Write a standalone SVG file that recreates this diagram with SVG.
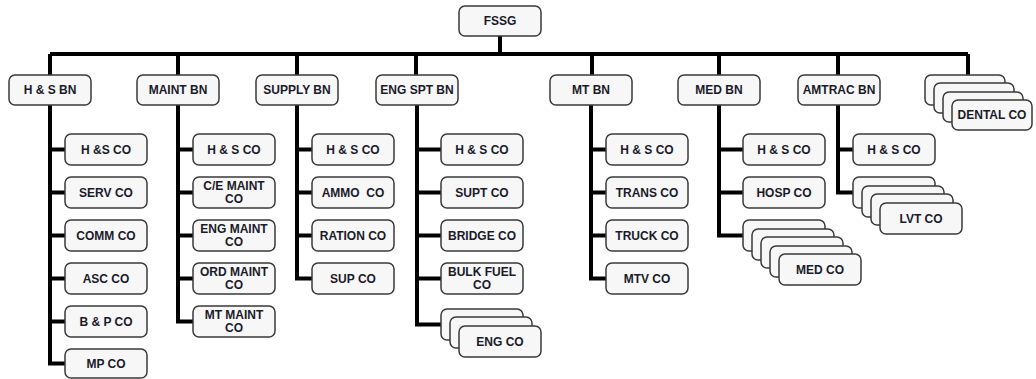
<svg xmlns="http://www.w3.org/2000/svg" width="1036" height="379" viewBox="0 0 1036 379">
<style>
.b{fill:#f7f7f7;stroke:#3a3a3a;stroke-width:1.5}
.t{font-family:"Liberation Sans",Arial,sans-serif;font-weight:bold;font-size:12px;fill:#1a1a2a;text-anchor:middle}
.c{fill:none;stroke:#000;stroke-width:4;stroke-linejoin:miter}
</style>
<rect width="1036" height="379" fill="#fff"/>
<g id="connectors">
<path class="c" d="M500,36V54M50,54H968M50,54V75M178,54V75M297,54V75M416,54V75M592,54V75M719,54V75M838,54V75M968,54V75"/>
<path class="c" d="M50,105V363.5H65M50,149.5H65M50,192.5H65M50,235.5H65M50,278.5H65M50,321.5H65"/>
<path class="c" d="M178,105V321.5H193M178,149.5H193M178,192.5H193M178,235.5H193M178,278.5H193"/>
<path class="c" d="M297,105V278.5H312M297,149.5H312M297,192.5H312M297,235.5H312"/>
<path class="c" d="M417,105V324.5H441M417,149.5H441M417,192.5H441M417,235.5H441M417,278.5H441"/>
<path class="c" d="M591,105V278.5H606M591,149.5H606M591,192.5H606M591,235.5H606"/>
<path class="c" d="M719,105V235.5H743M719,149.5H743M719,192.5H743"/>
<path class="c" d="M838,105V192.5H853M838,149.5H853"/>
</g>
<g id="fssg"><rect class="b" x="459" y="6" width="82" height="30" rx="6"/><text class="t" x="500" y="25">FSSG</text></g>
<g id="hs-bn"><rect class="b" x="9" y="75" width="82" height="30" rx="6"/><text class="t" x="50" y="94">H &amp; S BN</text></g>
<g id="maint-bn"><rect class="b" x="137" y="75" width="82" height="30" rx="6"/><text class="t" x="178" y="94">MAINT BN</text></g>
<g id="supply-bn"><rect class="b" x="256" y="75" width="82" height="30" rx="6"/><text class="t" x="297" y="94">SUPPLY BN</text></g>
<g id="engspt-bn"><rect class="b" x="376" y="75" width="82" height="30" rx="6"/><text class="t" x="417" y="94">ENG SPT BN</text></g>
<g id="mt-bn"><rect class="b" x="550" y="75" width="82" height="30" rx="6"/><text class="t" x="591" y="94">MT BN</text></g>
<g id="med-bn"><rect class="b" x="678" y="75" width="82" height="30" rx="6"/><text class="t" x="719" y="94">MED BN</text></g>
<g id="amtrac-bn"><rect class="b" x="798" y="75" width="82" height="30" rx="6"/><text class="t" x="839" y="94">AMTRAC BN</text></g>
<g id="dental-co">
<rect class="b" x="925" y="75" width="80" height="30" rx="6"/>
<rect class="b" x="934" y="83" width="80" height="30" rx="6"/>
<rect class="b" x="943" y="92" width="80" height="30" rx="6"/>
<rect class="b" x="952" y="100" width="80" height="30" rx="6"/>
<text class="t" x="992" y="119">DENTAL CO</text></g>
<g id="hsbn-hsco"><rect class="b" x="65" y="134" width="82" height="31" rx="6"/><text class="t" x="106" y="154">H &amp;S CO</text></g>
<g id="hsbn-serv"><rect class="b" x="65" y="177" width="82" height="31" rx="6"/><text class="t" x="106" y="197">SERV CO</text></g>
<g id="hsbn-comm"><rect class="b" x="65" y="220" width="82" height="31" rx="6"/><text class="t" x="106" y="240">COMM CO</text></g>
<g id="hsbn-asc"><rect class="b" x="65" y="263" width="82" height="31" rx="6"/><text class="t" x="106" y="283">ASC CO</text></g>
<g id="hsbn-bp"><rect class="b" x="65" y="306" width="82" height="31" rx="6"/><text class="t" x="106" y="326">B &amp; P CO</text></g>
<g id="hsbn-mp"><rect class="b" x="65" y="349" width="82" height="29" rx="6"/><text class="t" x="106" y="368">MP CO</text></g>
<g id="maint-hsco"><rect class="b" x="193" y="134" width="82" height="31" rx="6"/><text class="t" x="234" y="154">H &amp; S CO</text></g>
<g id="maint-ce"><rect class="b" x="193" y="177" width="82" height="31" rx="6"/><text class="t" x="234" y="190">C/E MAINT</text><text class="t" x="234" y="203">CO</text></g>
<g id="maint-eng"><rect class="b" x="193" y="220" width="82" height="31" rx="6"/><text class="t" x="234" y="233">ENG MAINT</text><text class="t" x="234" y="246">CO</text></g>
<g id="maint-ord"><rect class="b" x="193" y="263" width="82" height="31" rx="6"/><text class="t" x="234" y="276">ORD MAINT</text><text class="t" x="234" y="289">CO</text></g>
<g id="maint-mt"><rect class="b" x="193" y="306" width="82" height="31" rx="6"/><text class="t" x="234" y="319">MT MAINT</text><text class="t" x="234" y="332">CO</text></g>
<g id="sup-hsco"><rect class="b" x="312" y="134" width="82" height="31" rx="6"/><text class="t" x="353" y="154">H &amp; S CO</text></g>
<g id="sup-ammo"><rect class="b" x="312" y="177" width="82" height="31" rx="6"/><text class="t" x="353" y="197" xml:space="preserve">AMMO  CO</text></g>
<g id="sup-ration"><rect class="b" x="312" y="220" width="82" height="31" rx="6"/><text class="t" x="353" y="240">RATION CO</text></g>
<g id="sup-sup"><rect class="b" x="312" y="263" width="82" height="31" rx="6"/><text class="t" x="353" y="283">SUP CO</text></g>
<g id="eng-hsco"><rect class="b" x="441" y="134" width="82" height="31" rx="6"/><text class="t" x="482" y="154">H &amp; S CO</text></g>
<g id="eng-supt"><rect class="b" x="441" y="177" width="82" height="31" rx="6"/><text class="t" x="482" y="197">SUPT CO</text></g>
<g id="eng-bridge"><rect class="b" x="441" y="220" width="82" height="31" rx="6"/><text class="t" x="482" y="240">BRIDGE CO</text></g>
<g id="eng-bulk"><rect class="b" x="441" y="263" width="82" height="31" rx="6"/><text class="t" x="482" y="276">BULK FUEL</text><text class="t" x="482" y="289">CO</text></g>
<g id="eng-engco">
<rect class="b" x="441" y="309" width="82" height="31" rx="6"/>
<rect class="b" x="450" y="317" width="82" height="31" rx="6"/>
<rect class="b" x="459" y="326" width="82" height="31" rx="6"/>
<text class="t" x="500" y="346">ENG CO</text></g>
<g id="mt-hsco"><rect class="b" x="606" y="134" width="82" height="31" rx="6"/><text class="t" x="647" y="154">H &amp; S CO</text></g>
<g id="mt-trans"><rect class="b" x="606" y="177" width="82" height="31" rx="6"/><text class="t" x="647" y="197">TRANS CO</text></g>
<g id="mt-truck"><rect class="b" x="606" y="220" width="82" height="31" rx="6"/><text class="t" x="647" y="240">TRUCK CO</text></g>
<g id="mt-mtv"><rect class="b" x="606" y="263" width="82" height="31" rx="6"/><text class="t" x="647" y="283">MTV CO</text></g>
<g id="med-hsco"><rect class="b" x="743" y="134" width="82" height="31" rx="6"/><text class="t" x="784" y="154">H &amp; S CO</text></g>
<g id="med-hosp"><rect class="b" x="743" y="177" width="82" height="31" rx="6"/><text class="t" x="784" y="197">HOSP CO</text></g>
<g id="med-medco">
<rect class="b" x="743" y="220" width="82" height="31" rx="6"/>
<rect class="b" x="752" y="229" width="82" height="31" rx="6"/>
<rect class="b" x="761" y="237" width="82" height="31" rx="6"/>
<rect class="b" x="770" y="246" width="82" height="31" rx="6"/>
<rect class="b" x="779" y="254" width="82" height="31" rx="6"/>
<text class="t" x="820" y="274">MED CO</text></g>
<g id="amtrac-hsco"><rect class="b" x="853" y="134" width="82" height="31" rx="6"/><text class="t" x="894" y="154">H &amp; S CO</text></g>
<g id="amtrac-lvt">
<rect class="b" x="853" y="177" width="82" height="31" rx="6"/>
<rect class="b" x="862" y="186" width="82" height="31" rx="6"/>
<rect class="b" x="871" y="194" width="82" height="31" rx="6"/>
<rect class="b" x="880" y="203" width="82" height="31" rx="6"/>
<text class="t" x="921" y="223">LVT CO</text></g>
</svg>
